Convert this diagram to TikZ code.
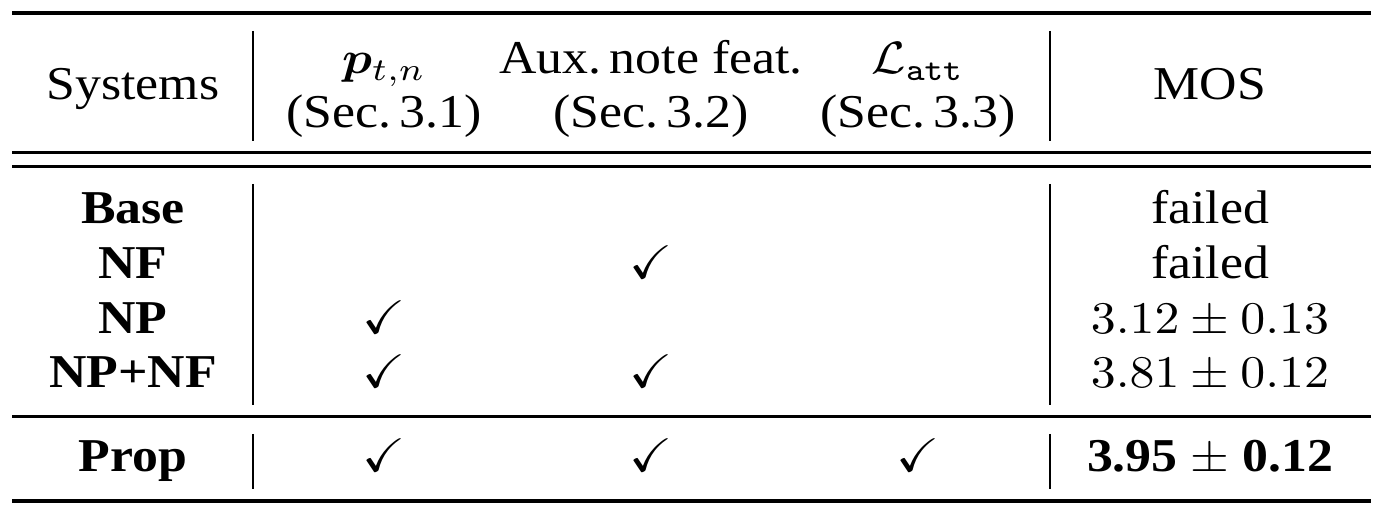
\documentclass[tikz,border=0pt]{standalone}
\usepackage{amsmath,amssymb,bm,graphicx}
\usepackage[no-math]{fontspec}
\setmainfont{Liberation Serif}
\newcommand{\wide}[1]{\scalebox{1.1}[1]{#1}}
\begin{document}
\begin{tikzpicture}[x=0.2208pt,y=-0.2208pt,
  cell/.style={anchor=base,inner sep=0pt,font=\fontsize{10.4}{12.5}\selectfont},
  heavyrule/.style={line width=0.88pt},
  lightrule/.style={line width=0.55pt},
  vrule/.style={line width=0.44pt}]
\useasboundingbox (0,0) rectangle (1386,515);
% rules
\coordinate (tl) at (12,13);  \coordinate (tr) at (1371,13);
\coordinate (d1l) at (12,152.5); \coordinate (d1r) at (1371,152.5);
\coordinate (d2l) at (12,166.5); \coordinate (d2r) at (1371,166.5);
\coordinate (ml) at (12,416.5); \coordinate (mr) at (1371,416.5);
\coordinate (bl) at (12,501); \coordinate (br) at (1371,501);
\draw[heavyrule] (tl) -- (tr);
\draw[lightrule] (d1l) -- (d1r);
\draw[lightrule] (d2l) -- (d2r);
\draw[lightrule] (ml) -- (mr);
\draw[heavyrule] (bl) -- (br);
% vertical lines
\foreach \x in {252.7,1049.5}{
  \draw[vrule] (\x,31) -- (\x,141);
  \draw[vrule] (\x,184) -- (\x,405);
  \draw[vrule] (\x,434) -- (\x,489);
}
% header
\node[cell] (hsys) at (133,100) {\wide{Systems}};
\node[cell] (hp) at (384,74) {\wide{$\bm{p}_{t,n}$}};
\node[cell] (hps) at (384,128) {\wide{(Sec.\,3.1)}};
\node[cell] (haux) at (651,74) {\wide{Aux.\,note feat.}};
\node[cell] (hauxs) at (651,128) {\wide{(Sec.\,3.2)}};
\node[cell] (hl) at (918,74) {\wide{$\mathcal{L}_{\mathtt{att}}$}};
\node[cell] (hls) at (918,128) {\wide{(Sec.\,3.3)}};
\node[cell] (hmos) at (1210,100) {\wide{MOS}};
% body
\node[cell] (rbase) at (133,224) {\wide{\textbf{Base}}};
\node[cell] (rnf) at (133,279) {\wide{\textbf{NF}}};
\node[cell] (rnp) at (133,333.5) {\wide{\textbf{NP}}};
\node[cell] (rnpnf) at (133,388) {\wide{\textbf{NP+NF}}};
\node[cell] (rprop) at (133,472) {\wide{\textbf{Prop}}};
\node[cell] (c1) at (651,279) {\wide{$\checkmark$}};
\node[cell] (c2) at (384,333.5) {\wide{$\checkmark$}};
\node[cell] (c3) at (384,388) {\wide{$\checkmark$}};
\node[cell] (c4) at (651,388) {\wide{$\checkmark$}};
\node[cell] (c5) at (384,472) {\wide{$\checkmark$}};
\node[cell] (c6) at (651,472) {\wide{$\checkmark$}};
\node[cell] (c7) at (918,472) {\wide{$\checkmark$}};
\node[cell] (m1) at (1210,224) {\wide{failed}};
\node[cell] (m2) at (1210,279) {\wide{failed}};
\node[cell] (m3) at (1210,333.5) {\wide{$3.12\pm0.13$}};
\node[cell] (m4) at (1210,388) {\wide{$3.81\pm0.12$}};
\node[cell] (m5) at (1210,472) {\wide{\textbf{3.95} $\pm$ \textbf{0.12}}};
\end{tikzpicture}
\end{document}
